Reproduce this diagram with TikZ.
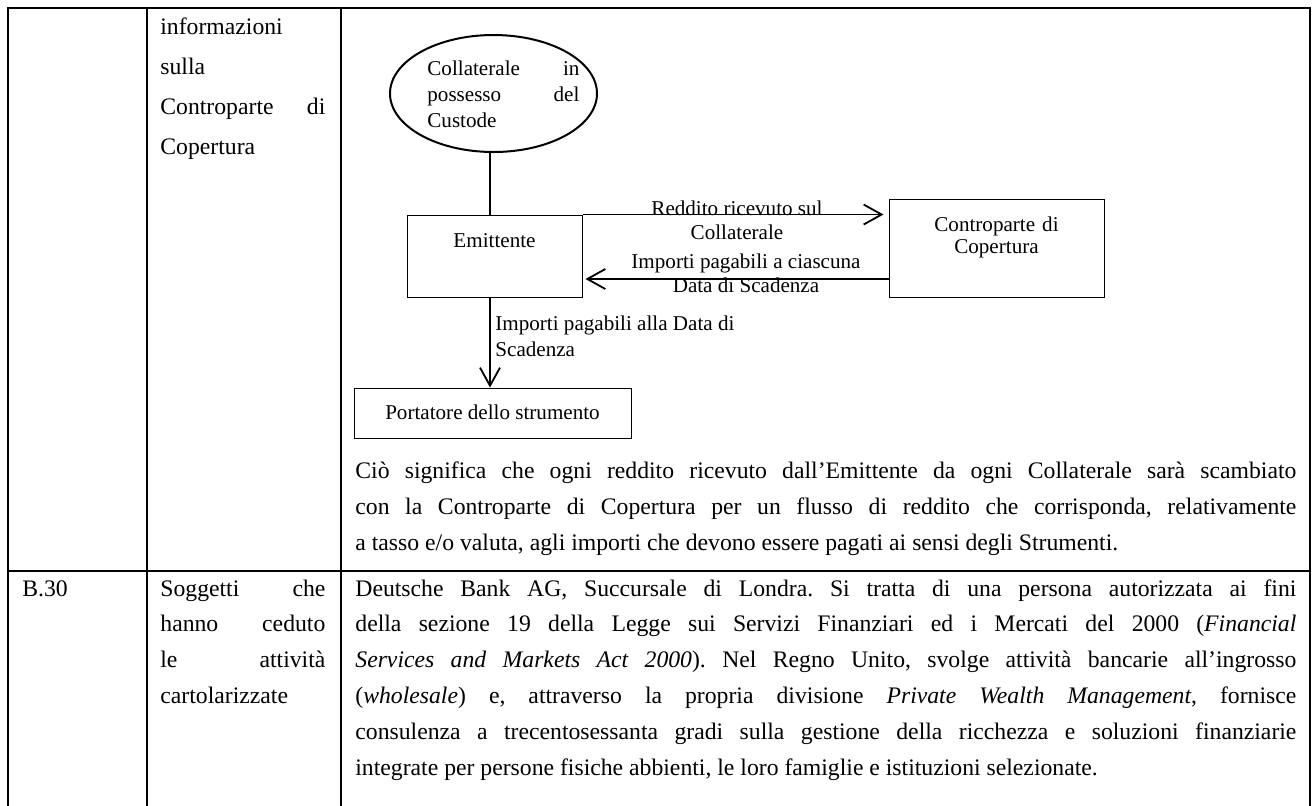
\documentclass[tikz,border=0pt]{standalone}
\usepackage{fontspec}
\setmainfont{Liberation Serif}
\usetikzlibrary{arrows.meta,shapes.geometric}
\newcommand\maintxt{\fontsize{11.85pt}{18pt}\selectfont}
\newcommand\maintxtB{\fontsize{11.85pt}{17.9pt}\selectfont}
\newcommand\maintxtC{\fontsize{11.85pt}{20pt}\selectfont}
\newcommand\diagtxt{\fontsize{10.55pt}{12pt}\selectfont}
\newcommand\diagtxtB{\fontsize{10.55pt}{11pt}\selectfont}
\newcommand\diagtxtC{\fontsize{10.55pt}{13pt}\selectfont}
\newcommand\diagtxtD{\fontsize{10.55pt}{13pt}\selectfont}
\hyphenpenalty=10000
\exhyphenpenalty=10000
\frenchspacing
\begin{document}
\begin{tikzpicture}[x=0.5pt,y=-0.5pt,
  tabline/.style={line width=1pt,line cap=rect},
  box/.style={draw,line width=0.5pt,inner sep=0pt},
  conn/.style={line width=0.9pt},
  arr/.style={conn,-{Straight Barb[length=9pt,width=10pt,line width=0.9pt]}},
  para/.style={anchor=base west,inner sep=0pt,align=justify},
  lab/.style={inner sep=0pt,font=\diagtxt}]
\fill[white] (0,0) rectangle (1314,805);
\useasboundingbox (0,0) rectangle (1314,805);
% table
\draw[tabline] (8,8) -- (1310,8);
\draw[tabline] (8,571) -- (1310,571);
\draw[tabline] (8,8) -- (8,812);
\draw[tabline] (147,8) -- (147,812);
\draw[tabline] (341,8) -- (341,812);
\draw[tabline] (1310,8) -- (1310,812);
% row 1 texts
\node[para,text width=82.5pt,font=\maintxtC] (r1c2) at (160,34)
  {informazioni\linebreak sulla\linebreak Controparte di\linebreak Copertura};
\node[para,text width=470.5pt,font=\maintxt] (r1c3) at (355,478)
  {Ciò significa che ogni reddito ricevuto dall’Emittente da ogni Collaterale sarà scambiato\linebreak
   con la Controparte di Copertura per un flusso di reddito che corrisponda, relativamente\linebreak
   a tasso e/o valuta, agli importi che devono essere pagati ai sensi degli Strumenti.};
% row 2 texts
\node[para,font=\maintxtB] (r2c1) at (22,596) {B.30};
\node[para,text width=82.5pt,font=\maintxtB] (r2c2) at (160,596)
  {Soggetti che\linebreak hanno ceduto\linebreak le attività\linebreak cartolarizzate};
\node[para,text width=470.5pt,font=\maintxtB] (r2c3) at (355,596)
  {Deutsche Bank AG, Succursale di Londra. Si tratta di una persona autorizzata ai fini\linebreak
   della sezione 19 della Legge sui Servizi Finanziari ed i Mercati del 2000 (\textit{Financial}\linebreak
   \textit{Services and Markets Act 2000}). Nel Regno Unito, svolge attività bancarie all’ingrosso\linebreak
   (\textit{wholesale}) e, attraverso la propria divisione \textit{Private Wealth Management}, fornisce\linebreak
   consulenza a trecentosessanta gradi sulla gestione della ricchezza e soluzioni finanziarie\linebreak
   integrate per persone fisiche abbienti, le loro famiglie e istituzioni selezionate.};
% diagram
\node[draw,ellipse,line width=1pt,inner sep=0pt,minimum width=103.5pt,minimum height=58.5pt] (ell) at (493.5,93.5) {};
\node[para,text width=76pt,font=\diagtxtC] (elltext) at (427,75)
  {Collaterale in\linebreak possesso del\linebreak Custode};
\node[box,minimum width=87.5pt,text height=16pt,text depth=25pt,anchor=base,font=\diagtxt] (emit) at (494.5,247) {Emittente};
\node[box,text width=107.5pt,align=center,text height=16pt,text depth=33pt,anchor=base,font=\diagtxtB] (contro) at (996.5,231) {Controparte di\\Copertura};
\node[box,minimum width=138.5pt,text height=15.5pt,text depth=9.5pt,anchor=base,font=\diagtxt] (port) at (492.5,419) {Portatore dello strumento};
\coordinate (vx) at (490,0);
\coordinate (a2y) at (0,279);
\draw[conn] (ell.south -| vx) -- (vx |- emit.north);
\draw[arr,shorten >=2.5pt] (emit.north east) -- (emit.north east -| contro.west);
\draw[arr,shorten >=1.5pt] (contro.west |- a2y) -- (emit.east |- a2y);
\draw[arr] (vx |- emit.south) -- (vx |- port.north);
\node[lab,anchor=base,align=center] (lab1) at (737,239) {Reddito ricevuto sul\\Collaterale};
\node[lab,anchor=base,align=center] (lab2) at (746,292) {Importi pagabili a ciascuna\\Data di Scadenza};
\node[lab,anchor=base west,align=left,font=\diagtxtD] (lab3) at (495,356) {Importi pagabili alla Data di\\Scadenza};
\end{tikzpicture}
\end{document}
